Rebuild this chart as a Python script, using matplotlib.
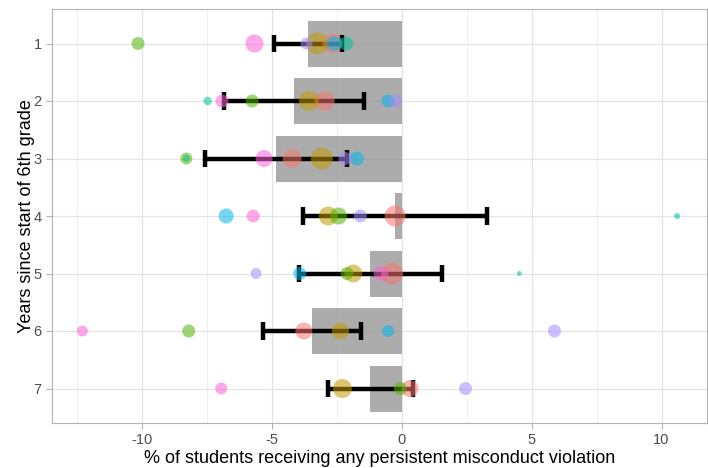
import matplotlib
matplotlib.use("Agg")
import matplotlib.pyplot as plt
import numpy as np

plt.rcParams['font.family'] = ['Liberation Sans', 'DejaVu Sans']

years = [1, 2, 3, 4, 5, 6, 7]
bar_values = [-3.61, -4.13, -4.85, -0.25, -1.20, -3.46, -1.20]
err_low = [-4.90, -6.82, -7.55, -3.81, -3.94, -5.34, -2.83]
err_high = [-2.30, -1.45, -2.10, 3.29, 1.57, -1.58, 0.42]

group_colors = ['#F8766D', '#C49A00', '#53B400', '#00C094', '#00B6EB', '#A58AFF', '#FB61D7']

# per group: (year, value, marker diameter in px)
salmon_pts = [(1, -2.66, 20), (2, -2.96, 20), (3, -4.21, 19), (4, -0.25, 21), (5, -0.37, 22), (6, -3.76, 17), (7, 0.32, 17)]
gold_pts = [(1, -3.24, 22), (2, -3.57, 20), (3, -3.07, 22), (4, -2.82, 19), (5, -1.86, 18), (6, -2.35, 17), (7, -2.28, 19)]
green_pts = [(1, -10.14, 13), (2, -5.75, 13), (3, -8.28, 12), (4, -2.43, 17), (5, -2.10, 13), (6, -8.19, 13), (7, -0.05, 13)]
teal_pts = [(1, -2.13, 14), (2, -7.46, 8.5), (3, -8.28, 7), (4, 10.60, 6), (5, 4.53, 5)]
cyan_pts = [(1, -2.60, 15), (2, -0.52, 13), (3, -1.72, 14), (4, -6.75, 15), (5, -3.92, 13), (6, -0.51, 12)]
purple_pts = [(1, -3.66, 12), (2, -0.23, 13), (3, -2.18, 13), (4, -1.59, 13), (5, -5.60, 11), (6, 5.88, 13), (7, 2.46, 13)]
pink_pts = [(1, -5.66, 18), (2, -6.91, 13), (3, -5.29, 17), (4, -5.71, 13), (5, -0.79, 15), (6, -12.28, 11), (7, -6.94, 12)]
groups = [salmon_pts, gold_pts, green_pts, teal_pts, cyan_pts, purple_pts, pink_pts]

xticks = [-10, -5, 0, 5, 10]
xminor = [-12.5, -7.5, -2.5, 2.5, 7.5]

fig = plt.figure(figsize=(7.08, 4.68), dpi=100)
ax = fig.add_axes([52/708, 1 - 423/468, (707 - 52)/708, (423 - 9)/468])

ax.set_xlim(-13.45, 11.75)
ax.set_ylim(7.6, 0.4)

for v in xminor:
    ax.axvline(v, color='#eeeeee', lw=0.6, zorder=0)
for v in xticks:
    ax.axvline(v, color='#e4e4e4', lw=0.9, zorder=0)
for y in years:
    ax.axhline(y, color='#e4e4e4', lw=0.9, zorder=0)

ax.barh(years, bar_values, height=0.8, color=(0.5, 0.5, 0.5), alpha=0.65, zorder=1, linewidth=0)

for y, lo, hi in zip(years, err_low, err_high):
    ax.plot([lo, hi], [y, y], color='black', lw=3.2, solid_capstyle='butt', zorder=2)
    ax.plot([lo, lo], [y - 0.15, y + 0.15], color='black', lw=3.2, solid_capstyle='butt', zorder=2)
    ax.plot([hi, hi], [y - 0.15, y + 0.15], color='black', lw=3.2, solid_capstyle='butt', zorder=2)

for col, pts in zip(group_colors, groups):
    ys = [p[0] for p in pts]
    xs = [p[1] for p in pts]
    ds = np.array([p[2] for p in pts])
    ax.scatter(xs, ys, s=(ds * 0.72) ** 2, color=col, alpha=0.55, linewidths=0, zorder=3)

ax.set_xticks(xticks)
ax.set_xticklabels([str(t) for t in xticks])
ax.set_yticks(years)
ax.set_yticklabels([str(y) for y in years])
ax.tick_params(axis='both', colors='#b3b3b3', labelcolor='#4d4d4d', labelsize=10.5, length=4, width=0.8)
for sp in ax.spines.values():
    sp.set_color('#b3b3b3')
    sp.set_linewidth(0.8)

ax.set_xlabel('% of students receiving any persistent misconduct violation', fontsize=13, color='black', labelpad=2)
ax.set_ylabel('Years since start of 6th grade', fontsize=13, color='black', labelpad=-1)

fig.savefig('out.png', dpi=100)
